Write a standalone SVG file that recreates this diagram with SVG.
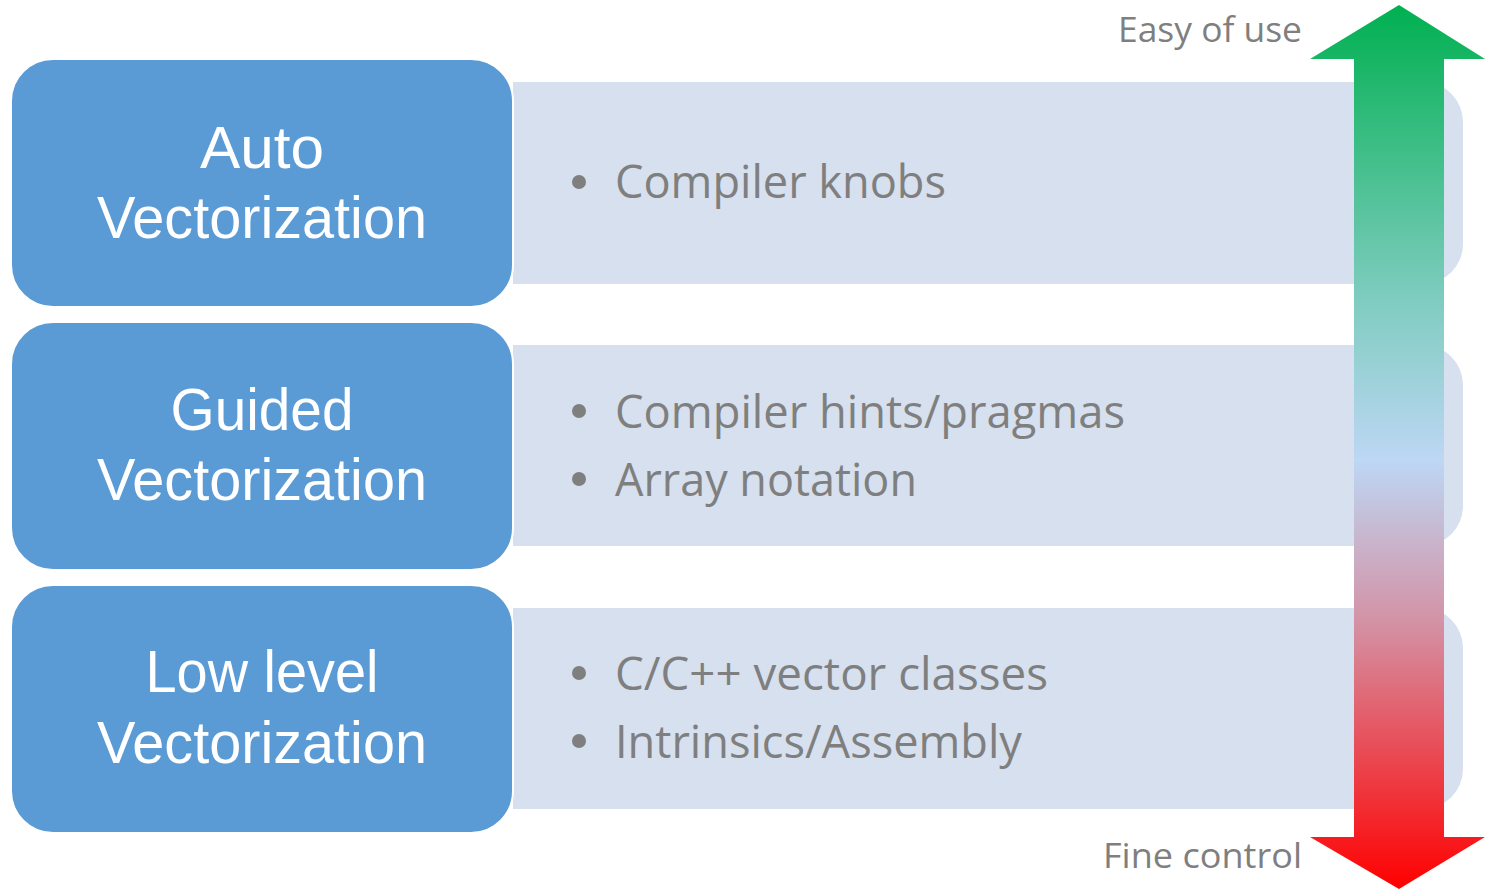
<svg xmlns="http://www.w3.org/2000/svg" width="1485" height="890" viewBox="0 0 1485 890">
<style>
.box{fill:#5B9BD5;stroke:#ffffff;stroke-width:2}
.panel{fill:#D6E0EE}
.title{font-family:"Liberation Sans",Arial,sans-serif;font-size:60px;fill:#ffffff;text-anchor:middle}
.item{font-family:"Open Sans","Noto Sans",sans-serif;font-size:46px;fill:#7F7F7F}
.dot{fill:#7F7F7F}
.side{font-family:"Open Sans","Noto Sans",sans-serif;font-size:35px;fill:#7F7F7F}
</style>
<defs>
<linearGradient id="grad" x1="0" y1="5" x2="0" y2="889" gradientUnits="userSpaceOnUse">
<stop offset="0" stop-color="#00B050"/>
<stop offset="0.33" stop-color="#7ECCBF"/>
<stop offset="0.515" stop-color="#BDD7F4"/>
<stop offset="0.7" stop-color="#D491A4"/>
<stop offset="1" stop-color="#FF0000"/>
</linearGradient>
</defs>
<rect width="1485" height="890" fill="#ffffff"/>
<g id="panel1"><path class="panel" d="M513 82 H1423 A40 40 0 0 1 1463 122 V244 A40 40 0 0 1 1423 284 H513 Z"/>
<circle class="dot" cx="579" cy="182" r="7"/>
<text class="item" x="615" y="198" textLength="331" lengthAdjust="spacingAndGlyphs">Compiler knobs</text></g>
<g id="panel2"><path class="panel" d="M513 345 H1423 A40 40 0 0 1 1463 385 V506 A40 40 0 0 1 1423 546 H513 Z"/>
<circle class="dot" cx="579" cy="411" r="7"/>
<text class="item" x="615" y="428" textLength="510" lengthAdjust="spacingAndGlyphs">Compiler hints/pragmas</text>
<circle class="dot" cx="579" cy="479" r="7"/>
<text class="item" x="615" y="496" textLength="302" lengthAdjust="spacingAndGlyphs">Array notation</text></g>
<g id="panel3"><path class="panel" d="M513 608 H1423 A40 40 0 0 1 1463 648 V769 A40 40 0 0 1 1423 809 H513 Z"/>
<circle class="dot" cx="579" cy="673" r="7"/>
<text class="item" x="615" y="690" textLength="433" lengthAdjust="spacingAndGlyphs">C/C++ vector classes</text>
<circle class="dot" cx="579" cy="741" r="7"/>
<text class="item" x="615" y="758" textLength="407" lengthAdjust="spacingAndGlyphs">Intrinsics/Assembly</text></g>
<g id="auto"><rect class="box" x="11" y="59" width="502" height="248" rx="42"/>
<text class="title" x="262" y="168" textLength="124" lengthAdjust="spacingAndGlyphs">Auto</text>
<text class="title" x="262" y="238" textLength="330" lengthAdjust="spacingAndGlyphs">Vectorization</text></g>
<g id="guided"><rect class="box" x="11" y="322" width="502" height="248" rx="42"/>
<text class="title" x="262" y="430" textLength="183" lengthAdjust="spacingAndGlyphs">Guided</text>
<text class="title" x="262" y="500" textLength="330" lengthAdjust="spacingAndGlyphs">Vectorization</text></g>
<g id="lowlevel"><rect class="box" x="11" y="585" width="502" height="248" rx="42"/>
<text class="title" x="262" y="692" textLength="233" lengthAdjust="spacingAndGlyphs">Low level</text>
<text class="title" x="262" y="763" textLength="330" lengthAdjust="spacingAndGlyphs">Vectorization</text></g>
<g id="connectors">
<polygon fill="url(#grad)" points="1399,5 1485,59 1444,59 1444,837 1485,837 1399,889 1310,837 1354,837 1354,59 1310,59"/>
</g>
<text class="side" x="1118" y="42" textLength="184" lengthAdjust="spacingAndGlyphs">Easy of use</text>
<text class="side" x="1103" y="868" textLength="199" lengthAdjust="spacingAndGlyphs">Fine control</text>
</svg>
